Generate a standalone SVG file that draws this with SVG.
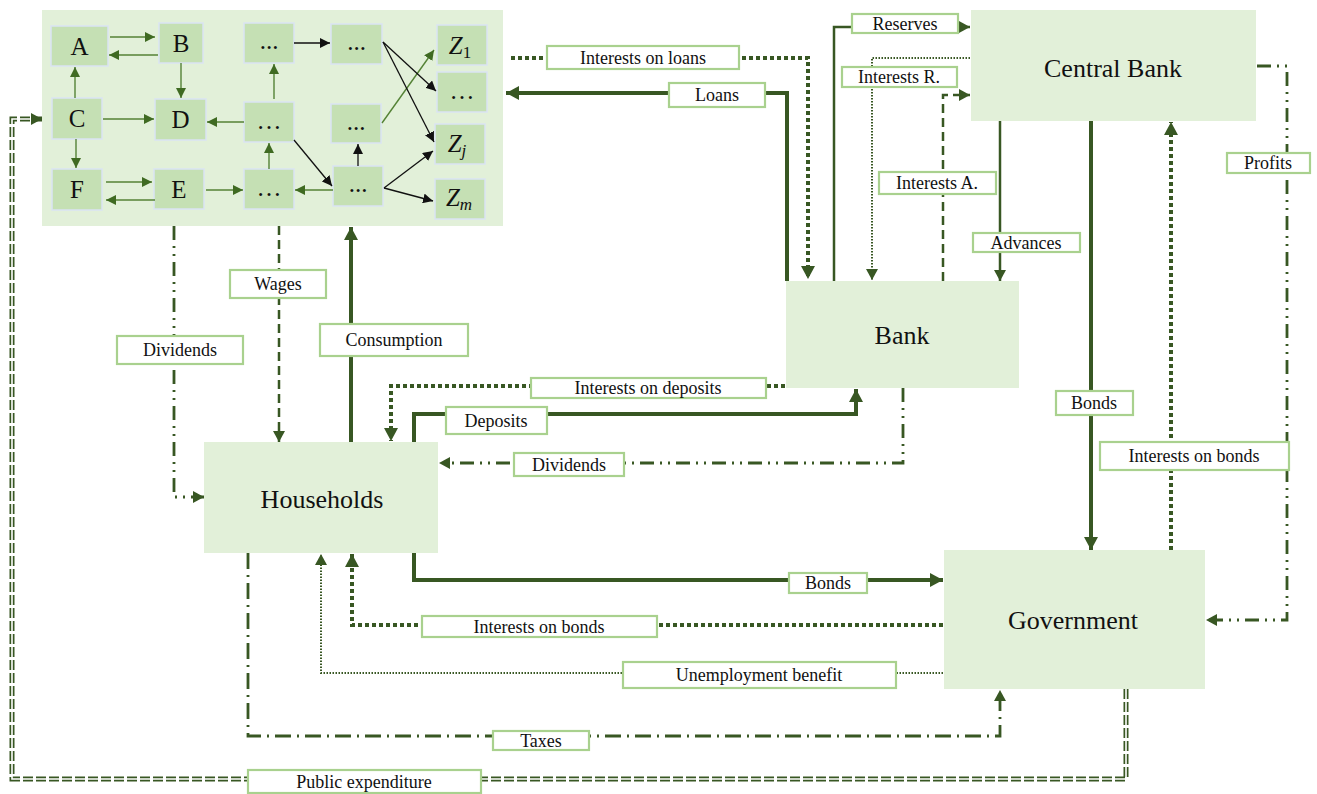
<svg xmlns="http://www.w3.org/2000/svg" width="1317" height="794" viewBox="0 0 1317 794">
<defs>
<style>
.node{fill:#e2f0d9}
.fb{fill:#c5e0b4;stroke:#dae3f3;stroke-width:1.5}
.ft{font-family:"Liberation Serif","Times New Roman",serif;font-size:25px;fill:#111;text-anchor:middle}
.nt{font-family:"Liberation Serif","Times New Roman",serif;font-size:26px;fill:#111;text-anchor:middle}
.lb{fill:#fff;stroke:#a9d18e;stroke-width:2.2}
.lt{font-family:"Liberation Serif","Times New Roman",serif;font-size:18px;fill:#111;text-anchor:middle}
.c{fill:none;stroke:#385723}
.thick{stroke-width:4}
.thin{stroke-width:2.5}
.tdot{stroke-width:4;stroke-dasharray:4 3}
.sdot{stroke-width:2;stroke-dasharray:1.5 1.5}
.dash{stroke-width:2.5;stroke-dasharray:9 5}
.dd{stroke-width:2.8;stroke-dasharray:14 6 2 6 2 6}
.da{stroke-width:2.8;stroke-dasharray:16 6 2 6}
.ga{fill:none;stroke:#548235;stroke-width:1.4}
.ka{fill:none;stroke:#111;stroke-width:1.3}
</style>
<marker id="big" markerUnits="userSpaceOnUse" markerWidth="14" markerHeight="14" refX="13" refY="7" orient="auto"><path d="M0,0 L13,7 L0,14 z" fill="#385723"/></marker>
<marker id="med" markerUnits="userSpaceOnUse" markerWidth="12" markerHeight="12" refX="11" refY="6" orient="auto"><path d="M0,0 L11,6 L0,12 z" fill="#385723"/></marker>
<marker id="sg" markerUnits="userSpaceOnUse" markerWidth="10" markerHeight="10" refX="10" refY="5" orient="auto"><path d="M0,0 L10,5 L0,10 z" fill="#3f6a22"/></marker>
<marker id="sk" markerUnits="userSpaceOnUse" markerWidth="10" markerHeight="10" refX="10" refY="5" orient="auto"><path d="M0,0 L10,5 L0,10 z" fill="#111"/></marker>
</defs>
<rect width="1317" height="794" fill="#fff"/>

<g id="firms">
<rect class="node" x="42" y="10" width="461" height="216"/>
<g id="firm-A"><rect class="fb" x="51" y="26" width="57" height="40"/><text class="ft" x="79.5" y="55">A</text></g>
<g id="firm-B"><rect class="fb" x="159" y="23" width="44" height="40"/><text class="ft" x="181" y="52">B</text></g>
<g id="firm-C"><rect class="fb" x="52" y="98" width="50" height="41"/><text class="ft" x="77" y="127">C</text></g>
<g id="firm-D"><rect class="fb" x="155" y="99" width="51" height="41"/><text class="ft" x="180.5" y="128">D</text></g>
<g id="firm-F"><rect class="fb" x="52" y="169" width="50" height="41"/><text class="ft" x="77" y="198">F</text></g>
<g id="firm-E"><rect class="fb" x="154" y="169" width="50" height="40"/><text class="ft" x="179" y="198">E</text></g>
<g id="firm-t3"><rect class="fb" x="244" y="23" width="50" height="40"/><text class="ft" x="269" y="49" font-size="22">...</text></g>
<g id="firm-t4"><rect class="fb" x="331" y="24" width="51" height="40"/><text class="ft" x="356.5" y="50" font-size="22">...</text></g>
<g id="firm-m3"><rect class="fb" x="244" y="102" width="50" height="40"/><text class="ft" x="269" y="129" font-size="22">…</text></g>
<g id="firm-m4"><rect class="fb" x="331" y="104" width="50" height="39"/><text class="ft" x="356" y="130" font-size="22">...</text></g>
<g id="firm-b3"><rect class="fb" x="244" y="169" width="50" height="40"/><text class="ft" x="269" y="196" font-size="22">…</text></g>
<g id="firm-b4"><rect class="fb" x="333" y="166" width="50" height="40"/><text class="ft" x="358" y="192" font-size="22">...</text></g>
<g id="firm-Z1"><rect class="fb" x="437" y="25" width="50" height="40"/><text class="ft" x="460" y="54" font-size="27"><tspan font-style="italic">Z</tspan><tspan font-size="17" dy="4">1</tspan></text></g>
<g id="firm-Zd"><rect class="fb" x="437" y="72" width="50" height="40"/><text class="ft" x="462" y="99" font-size="22">…</text></g>
<g id="firm-Zj"><rect class="fb" x="435" y="124" width="50" height="40"/><text class="ft" x="457" y="152" font-size="27"><tspan font-style="italic">Z</tspan><tspan font-size="17" dy="4" font-style="italic">j</tspan></text></g>
<g id="firm-Zm"><rect class="fb" x="435" y="179" width="50" height="40"/><text class="ft" x="459" y="206" font-size="27"><tspan font-style="italic">Z</tspan><tspan font-size="17" dy="4" font-style="italic">m</tspan></text></g>
<g id="firm-links">
<path class="ga" d="M110,37 H155" marker-end="url(#sg)"/>
<path class="ga" d="M158,55 H109" marker-end="url(#sg)"/>
<path class="ga" d="M181,63 V98" marker-end="url(#sg)"/>
<path class="ga" d="M75,98 V67" marker-end="url(#sg)"/>
<path class="ga" d="M103,119 H154" marker-end="url(#sg)"/>
<path class="ga" d="M76,139 V168" marker-end="url(#sg)"/>
<path class="ga" d="M106,182 H152" marker-end="url(#sg)"/>
<path class="ga" d="M155,200 H106" marker-end="url(#sg)"/>
<path class="ga" d="M206,190 H243" marker-end="url(#sg)"/>
<path class="ga" d="M333,190 H295" marker-end="url(#sg)"/>
<path class="ga" d="M269,169 V143" marker-end="url(#sg)"/>
<path class="ga" d="M244,122 H207" marker-end="url(#sg)"/>
<path class="ga" d="M274,99 V64" marker-end="url(#sg)"/>
<path class="ga" d="M382,123 L434,50" marker-end="url(#sg)"/>
<path class="ka" d="M294,43 H330" marker-end="url(#sk)"/>
<path class="ka" d="M294,140 L332,186" marker-end="url(#sk)"/>
<path class="ka" d="M358,166 V144" marker-end="url(#sk)"/>
<path class="ka" d="M383,42 L436,91" marker-end="url(#sk)"/>
<path class="ka" d="M383,42 L434,142" marker-end="url(#sk)"/>
<path class="ka" d="M384,188 L433,151" marker-end="url(#sk)"/>
<path class="ka" d="M384,188 L433,201" marker-end="url(#sk)"/>
</g>
</g>

<g id="central-bank"><rect class="node" x="971" y="10" width="285" height="111"/><text class="nt" x="1113" y="77">Central Bank</text></g>
<g id="bank"><rect class="node" x="786" y="281" width="233" height="107"/><text class="nt" x="902" y="344">Bank</text></g>
<g id="households"><rect class="node" x="204" y="442" width="234" height="111"/><text class="nt" x="322" y="508">Households</text></g>
<g id="government"><rect class="node" x="944" y="550" width="261" height="139"/><text class="nt" x="1073" y="629">Government</text></g>

<g id="connectors">
<path class="c thick" d="M787,281 V93 H506" marker-end="url(#big)"/>
<path class="c tdot" d="M511,58 H808 V279" marker-end="url(#big)"/>
<path class="c thin" d="M834,281 V27 H970" marker-end="url(#med)"/>
<path class="c sdot" d="M970,58 H872 V280" marker-end="url(#med)"/>
<path class="c dash" d="M943,281 V95 H970" marker-end="url(#med)"/>
<path class="c thin" d="M1000,121 V281" marker-end="url(#med)"/>
<path class="c thick" d="M1091,121 V550" marker-end="url(#big)"/>
<path class="c tdot" d="M1171,550 V122" marker-end="url(#big)"/>
<path class="c dd" d="M1257,66 H1287 V620 H1206" marker-end="url(#med)"/>
<path class="c tdot" d="M785,386 H391 V441" marker-end="url(#big)"/>
<path class="c thick" d="M414,442 V414 H856 V389" marker-end="url(#big)"/>
<path class="c dd" d="M903,388 V463 H439" marker-end="url(#med)"/>
<path class="c dd" d="M174,226 V497 H204" marker-end="url(#med)"/>
<path class="c dash" d="M279,226 V442" marker-end="url(#med)"/>
<path class="c thick" d="M351,442 V227" marker-end="url(#big)"/>
<path class="c thick" d="M414,553 V580 H943" marker-end="url(#big)"/>
<path class="c tdot" d="M943,625 H352 V554" marker-end="url(#big)"/>
<path class="c sdot" d="M943,673 H321 V554" marker-end="url(#med)"/>
<path class="c da" d="M248,553 V736 H1000 V690" marker-end="url(#med)"/>
<path class="c" stroke-width="5" stroke-dasharray="10 3" d="M1126,689 V779 H12 V119 H42" marker-end="url(#med)"/>
<path fill="none" stroke="#fff" stroke-width="1.6" d="M1126,689 V779 H12 V119 H31"/>
</g>

<g id="labels">
<rect class="lb" x="547" y="46" width="192" height="23"/><text class="lt" x="643" y="64">Interests on loans</text>
<rect class="lb" x="669" y="83" width="96" height="24"/><text class="lt" x="717" y="101">Loans</text>
<rect class="lb" x="852" y="14" width="106" height="19"/><text class="lt" x="905" y="30">Reserves</text>
<rect class="lb" x="842" y="67" width="115" height="20"/><text class="lt" x="899" y="83">Interests R.</text>
<rect class="lb" x="879" y="172" width="117" height="22"/><text class="lt" x="937" y="189">Interests A.</text>
<rect class="lb" x="973" y="233" width="107" height="19"/><text class="lt" x="1026" y="249">Advances</text>
<rect class="lb" x="1227" y="153" width="83" height="20"/><text class="lt" x="1268" y="169">Profits</text>
<rect class="lb" x="1056" y="391" width="77" height="24"/><text class="lt" x="1094" y="409">Bonds</text>
<rect class="lb" x="1100" y="442" width="189" height="28"/><text class="lt" x="1194" y="462">Interests on bonds</text>
<rect class="lb" x="531" y="378" width="235" height="20"/><text class="lt" x="648" y="394">Interests on deposits</text>
<rect class="lb" x="446" y="407" width="101" height="27"/><text class="lt" x="496" y="427">Deposits</text>
<rect class="lb" x="514" y="453" width="110" height="23"/><text class="lt" x="569" y="471">Dividends</text>
<rect class="lb" x="117" y="336" width="126" height="28"/><text class="lt" x="180" y="356">Dividends</text>
<rect class="lb" x="230" y="270" width="96" height="28"/><text class="lt" x="278" y="290">Wages</text>
<rect class="lb" x="320" y="324" width="148" height="32"/><text class="lt" x="394" y="346">Consumption</text>
<rect class="lb" x="789" y="573" width="78" height="20"/><text class="lt" x="828" y="589">Bonds</text>
<rect class="lb" x="422" y="616" width="235" height="21"/><text class="lt" x="539" y="633">Interests on bonds</text>
<rect class="lb" x="623" y="662" width="273" height="26"/><text class="lt" x="759" y="681">Unemployment benefit</text>
<rect class="lb" x="493" y="731" width="96" height="19"/><text class="lt" x="541" y="747">Taxes</text>
<rect class="lb" x="248" y="770" width="233" height="23"/><text class="lt" x="364" y="788">Public expenditure</text>
</g>
</svg>
